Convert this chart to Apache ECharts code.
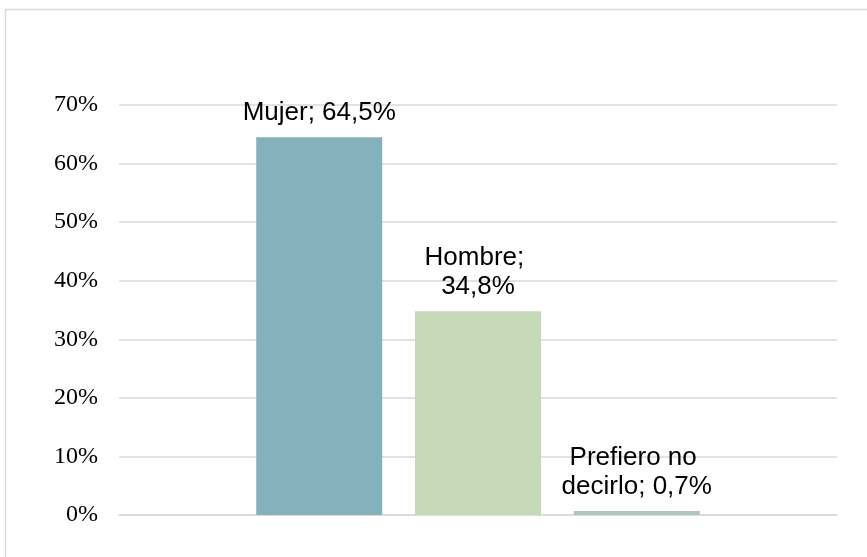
<!DOCTYPE html>
<html>
<head>
<meta charset="utf-8">
<script src="https://cdn.jsdelivr.net/npm/echarts@6/dist/echarts.min.js"></script>
<style>
  html, body { margin: 0; padding: 0; background: #ffffff; }
  #chart { width: 867px; height: 557px; }
</style>
</head>
<body>
<div id="chart"></div>
<script>
// Respuestas por sexo (porcentaje)
const categories = ['Sexo'];
const seriesNames = ['Mujer', 'Hombre', 'Prefiero no decirlo'];
const seriesValues = [64.5, 34.8, 0.7];
const seriesColors = ['#85B1BD', '#C5D8B8', '#AEC7BB'];
const labelWidths = [200, 115, 165];
const yTicks = { min: 0, max: 70, interval: 10 };

const fmt = v => v.toFixed(1).replace('.', ',') + '%';

const chart = echarts.init(document.getElementById('chart'));

const series = seriesNames.map((name, i) => ({
  name: name,
  type: 'bar',
  data: [seriesValues[i]],
  barWidth: 126,
  barGap: '26%',
  itemStyle: { color: seriesColors[i] },
  label: {
    show: true,
    position: 'top',
    distance: 10,
    formatter: p => p.seriesName + '; ' + fmt(p.value),
    width: labelWidths[i],
    overflow: 'break',
    align: 'center',
    color: '#000000',
    fontFamily: 'Liberation Sans, Arial, sans-serif',
    fontSize: 26,
    lineHeight: 29
  }
}));

chart.setOption({
  animation: false,
  backgroundColor: '#ffffff',
  graphic: [{
    type: 'rect',
    shape: { x: 5.5, y: 9.5, width: 900, height: 600 },
    style: { fill: 'none', stroke: '#D9D9D9', lineWidth: 1.5 },
    silent: true,
    z: -10
  }],
  grid: { left: 119, right: 30, top: 105, bottom: 42, containLabel: false },
  xAxis: {
    type: 'category',
    data: categories,
    axisLine: { show: true, lineStyle: { color: '#D9D9D9', width: 1.5 } },
    axisTick: { show: false },
    axisLabel: { show: false }
  },
  yAxis: {
    type: 'value',
    min: yTicks.min,
    max: yTicks.max,
    interval: yTicks.interval,
    axisLine: { show: false },
    axisTick: { show: false },
    splitLine: { lineStyle: { color: '#D9D9D9', width: 1.5 } },
    axisLabel: {
      margin: 21,
      color: '#000000',
      fontFamily: 'Liberation Serif, Times New Roman, serif',
      fontSize: 24,
      formatter: v => v + '%'
    }
  },
  series: series
});
</script>
</body>
</html>
